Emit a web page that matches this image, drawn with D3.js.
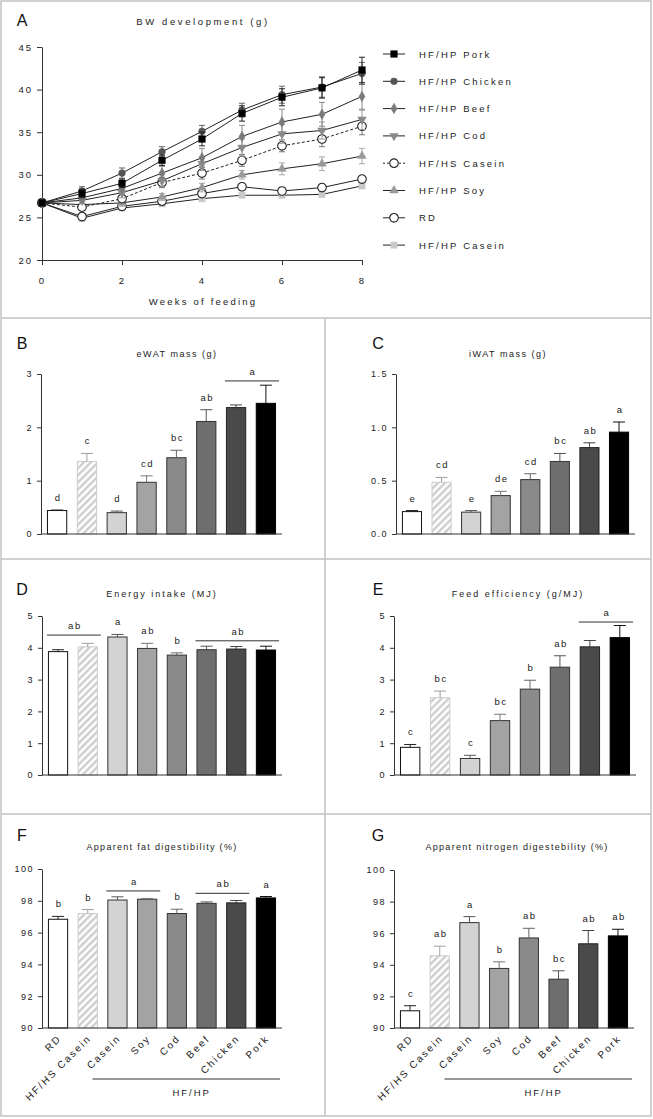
<!DOCTYPE html>
<html><head><meta charset="utf-8">
<script src="https://cdn.jsdelivr.net/npm/d3@7"></script>
<style>
html,body{margin:0;padding:0;background:#fff;}
svg{display:block;font-family:Arial,"Liberation Sans",Helvetica,sans-serif;}
</style></head><body>
<svg id="chart" width="653" height="1119"></svg>
<script>
// ================= DATA =================
// Panel A: body weight development (g)
const weeks = [0, 1, 2, 3, 4, 5, 6, 7, 8];
const weekTicks = [0, 2, 4, 6, 8];
const bwTicks = [20, 25, 30, 35, 40, 45];
const bwNames = ["HF/HP Pork", "HF/HP Chicken", "HF/HP Beef", "HF/HP Cod", "HF/HS Casein", "HF/HP Soy", "RD", "HF/HP Casein"];
const bwPork      = [26.7, 27.8, 29.0, 31.7, 34.2, 37.2, 39.1, 40.2, 42.3];
const bwChicken   = [26.7, 28.1, 30.2, 32.7, 35.1, 37.6, 39.4, 40.3, 41.9];
const bwBeef      = [26.7, 27.3, 28.4, 30.2, 32.0, 34.5, 36.2, 37.1, 39.2];
const bwCod       = [26.7, 27.0, 27.9, 29.3, 31.3, 33.2, 34.8, 35.2, 36.5];
const bwHSCasein  = [26.7, 26.2, 27.2, 29.1, 30.2, 31.7, 33.4, 34.2, 35.7];
const bwSoy       = [26.7, 26.5, 26.7, 27.4, 28.5, 30.0, 30.7, 31.3, 32.2];
const bwRD        = [26.7, 25.1, 26.3, 26.9, 27.8, 28.6, 28.1, 28.5, 29.5];
const bwCasein    = [26.7, 24.9, 26.1, 26.6, 27.2, 27.6, 27.6, 27.7, 28.7];
const bwPorkErr     = [0, 0.5, 0.5, 0.6, 0.8, 0.9, 1.0, 1.2, 1.5];
const bwChickenErr  = [0, 0.5, 0.6, 0.6, 0.7, 0.8, 1.0, 1.2, 1.3];
const bwBeefErr     = [0, 0.4, 0.7, 0.8, 1.1, 1.3, 1.5, 1.4, 1.6];
const bwCodErr      = [0, 0.4, 0.6, 0.7, 0.8, 1.0, 1.1, 1.0, 1.2];
const bwHSCaseinErr = [0, 0.4, 0.5, 0.6, 0.7, 0.7, 0.7, 0.9, 1.0];
const bwSoyErr      = [0, 0.4, 0.4, 0.4, 0.5, 0.5, 0.7, 0.8, 0.9];
const bwRDErr       = [0, 0.3, 0.3, 0.3, 0.3, 0.3, 0.4, 0.4, 0.4];
const bwCaseinErr   = [0, 0.3, 0.3, 0.3, 0.2, 0.2, 0.2, 0.2, 0.3];

// Bar panels
const barGroups = ["RD", "HF/HS Casein", "Casein", "Soy", "Cod", "Beef", "Chicken", "Pork"];
const hfhpLabel = "HF/HP";

const ewatMean = [0.44, 1.36, 0.40, 0.97, 1.43, 2.11, 2.37, 2.45];
const ewatSem  = [0.01, 0.15, 0.03, 0.12, 0.14, 0.22, 0.05, 0.34];
const ewatLetters = ["d", "c", "d", "cd", "bc", "ab", "", ""];
const ewatGroupLines = [{from: 6, to: 7, value: 2.87, label: "a"}];
const ewatTicks = [0, 1, 2, 3];

const iwatMean = [0.21, 0.485, 0.205, 0.36, 0.51, 0.68, 0.81, 0.955];
const iwatSem  = [0.01, 0.045, 0.015, 0.04, 0.055, 0.075, 0.045, 0.095];
const iwatLetters = ["e", "cd", "e", "de", "cd", "bc", "ab", "a"];
const iwatGroupLines = [];
const iwatTicks = [0, 0.5, 1.0, 1.5];

const energyMean = [3.88, 4.03, 4.34, 3.98, 3.77, 3.94, 3.96, 3.93];
const energySem  = [0.06, 0.11, 0.08, 0.16, 0.07, 0.11, 0.08, 0.12];
const energyLetters = ["", "", "a", "ab", "b", "", "", ""];
const energyGroupLines = [{from: 0, to: 1, value: 4.40, label: "ab"}, {from: 5, to: 7, value: 4.22, label: "ab"}];
const energyTicks = [0, 1, 2, 3, 4, 5];

const feedMean = [0.87, 2.43, 0.52, 1.71, 2.70, 3.39, 4.03, 4.32];
const feedSem  = [0.09, 0.21, 0.10, 0.20, 0.28, 0.36, 0.20, 0.38];
const feedLetters = ["c", "bc", "c", "bc", "b", "ab", "", ""];
const feedGroupLines = [{from: 6, to: 7, value: 4.81, label: "a"}];
const feedTicks = [0, 1, 2, 3, 4, 5];

const fatMean = [96.84, 97.20, 98.05, 98.10, 97.20, 97.84, 97.87, 98.18];
const fatSem  = [0.18, 0.25, 0.20, 0.05, 0.27, 0.09, 0.15, 0.09];
const fatLetters = ["b", "b", "", "", "b", "", "", "a"];
const fatGroupLines = [{from: 2, to: 3, value: 98.62, label: "a"}, {from: 5, to: 6, value: 98.47, label: "ab"}];
const digTicks = [90, 92, 94, 96, 98, 100];

const nitMean = [91.09, 94.57, 96.67, 93.77, 95.70, 93.09, 95.33, 95.83];
const nitSem  = [0.32, 0.61, 0.38, 0.42, 0.61, 0.53, 0.84, 0.42];
const nitLetters = ["c", "ab", "a", "b", "ab", "bc", "ab", "ab"];
const nitGroupLines = [];

// ================= DRAWING =================
const svg = d3.select("#chart");
const FONT_SMALL = "9px";

// hatch pattern
const defs = svg.append("defs");
const pat = defs.append("pattern").attr("id", "hatch").attr("patternUnits", "userSpaceOnUse")
  .attr("width", 5).attr("height", 5).attr("patternTransform", "rotate(45)");
pat.append("rect").attr("width", 5).attr("height", 5).attr("fill", "#ffffff");
pat.append("rect").attr("width", 2.4).attr("height", 5).attr("fill", "#cdcdcd");

// frame
const frame = svg.append("g").attr("stroke", "#c2c2c2").attr("stroke-width", 1.5).attr("fill", "none");
frame.append("rect").attr("x", 1).attr("y", 1).attr("width", 650).attr("height", 1115);
[318, 559, 814].forEach(yy => frame.append("line").attr("x1", 1).attr("x2", 651).attr("y1", yy).attr("y2", yy));
frame.append("line").attr("x1", 325).attr("x2", 325).attr("y1", 318).attr("y2", 1116);

function styleAxis(sel, ls, fs) {
  sel.select(".domain").attr("stroke", "#333").attr("stroke-width", 1);
  sel.selectAll(".tick line").attr("stroke", "#333").attr("stroke-width", 1);
  sel.selectAll(".tick text").attr("fill", "#222").style("font-size", fs || FONT_SMALL)
    .style("letter-spacing", ls + "px").style("font-family", "Arial, 'Liberation Sans', sans-serif");
}

function panelLetter(t, x, y) {
  svg.append("text").attr("x", x).attr("y", y).attr("text-anchor", "middle")
    .style("font-size", "16px").attr("fill", "#111").text(t);
}
function panelTitle(t, x, y, ls) {
  svg.append("text").attr("x", x).attr("y", y).attr("text-anchor", "middle")
    .style("font-size", FONT_SMALL).style("letter-spacing", (ls || 2) + "px").attr("fill", "#222").text(t);
}

// ---------- Panel A ----------
(function () {
  const x = d3.scaleLinear().domain([0, 8]).range([42, 362]);
  const y = d3.scaleLinear().domain([20, 45]).range([260, 47]);
  const g = svg.append("g");
  const ya = g.append("g").attr("transform", "translate(42,0)")
    .call(d3.axisLeft(y).tickValues(bwTicks).tickSize(5).tickSizeOuter(0).tickPadding(4));
  styleAxis(ya, 2, "9.5px");
  const xa = g.append("g").attr("transform", "translate(0,260)")
    .call(d3.axisBottom(x).tickValues(weekTicks).tickSize(5).tickSizeOuter(0).tickPadding(12));
  styleAxis(xa, 2, "9.5px");

  const values = [bwPork, bwChicken, bwBeef, bwCod, bwHSCasein, bwSoy, bwRD, bwCasein];
  const errs = [bwPorkErr, bwChickenErr, bwBeefErr, bwCodErr, bwHSCaseinErr, bwSoyErr, bwRDErr, bwCaseinErr];
  const styles = [
    {sym: d3.symbolSquare, size: 44, fill: "#000", stroke: "#000", err: "#222", rot: 0, dash: null},
    {sym: d3.symbolCircle, size: 36, fill: "#555", stroke: "#555", err: "#666", rot: 0, dash: null},
    {sym: d3.symbolDiamond, size: 32, fill: "#7a7a7a", stroke: "#7a7a7a", err: "#888", rot: 0, dash: null},
    {sym: d3.symbolTriangle, size: 32, fill: "#8a8a8a", stroke: "#8a8a8a", err: "#999", rot: 180, dash: null},
    {sym: d3.symbolCircle, size: 58, fill: "#fff", stroke: "#222", err: "#777", rot: 0, dash: "3,2"},
    {sym: d3.symbolTriangle, size: 32, fill: "#9a9a9a", stroke: "#9a9a9a", err: "#aaa", rot: 0, dash: null},
    {sym: d3.symbolCircle, size: 58, fill: "#fff", stroke: "#222", err: "#888", rot: 0, dash: null},
    {sym: d3.symbolSquare, size: 40, fill: "#c8c8c8", stroke: "#c8c8c8", err: "#bbb", rot: 0, dash: null}
  ];
  const line = d3.line().x((d, i) => x(weeks[i])).y(d => y(d));
  for (let s = values.length - 1; s >= 0; s--) {
    const st = styles[s];
    const sg = g.append("g");
    weeks.forEach((w, i) => {
      const e = errs[s][i];
      if (!e) return;
      const cx = x(w), y1 = y(values[s][i] - e), y2 = y(values[s][i] + e);
      sg.append("line").attr("x1", cx).attr("x2", cx).attr("y1", y1).attr("y2", y2).attr("stroke", st.err).attr("stroke-width", 1);
      [y1, y2].forEach(yy => sg.append("line").attr("x1", cx - 3).attr("x2", cx + 3).attr("y1", yy).attr("y2", yy)
        .attr("stroke", st.err).attr("stroke-width", 1));
    });
    sg.append("path").attr("d", line(values[s])).attr("fill", "none").attr("stroke", "#222").attr("stroke-width", 1)
      .attr("stroke-dasharray", st.dash);
    sg.selectAll("path.m").data(values[s]).join("path").attr("class", "m")
      .attr("d", d3.symbol().type(st.sym).size(st.size))
      .attr("transform", (d, i) => `translate(${x(weeks[i])},${y(d)}) rotate(${st.rot})`)
      .attr("fill", st.fill).attr("stroke", st.stroke).attr("stroke-width", st.fill === "#fff" ? 1.1 : 0.5);
  }
  // legend
  const lg = g.append("g");
  bwNames.forEach((n, i) => {
    const st = styles[i];
    const ly = 54 + i * 27.3;
    lg.append("line").attr("x1", 383).attr("x2", 405).attr("y1", ly).attr("y2", ly)
      .attr("stroke", "#222").attr("stroke-width", 1).attr("stroke-dasharray", st.dash ? "2,2" : null);
    lg.append("path").attr("d", d3.symbol().type(st.sym).size(st.size)())
      .attr("transform", `translate(394,${ly}) rotate(${st.rot})`)
      .attr("fill", st.fill).attr("stroke", st.stroke).attr("stroke-width", st.fill === "#fff" ? 1.1 : 0.5);
    lg.append("text").attr("x", 419).attr("y", ly + 3.5).style("font-size", "9.5px").style("letter-spacing", "2.2px")
      .attr("fill", "#222").text(n);
  });
  panelLetter("A", 22, 26);
  svg.append("text").attr("x", 203).attr("y", 25).attr("text-anchor", "middle")
    .style("font-size", "9.5px").style("letter-spacing", "2.6px").attr("fill", "#222").text("BW development (g)");
  svg.append("text").attr("x", 203).attr("y", 305).attr("text-anchor", "middle")
    .style("font-size", "9.5px").style("letter-spacing", "2.2px").attr("fill", "#222").text("Weeks of feeding");
})();

// ---------- Bar panels ----------
const barFills   = ["#ffffff", "url(#hatch)", "#d3d3d3", "#a3a3a3", "#8a8a8a", "#6e6e6e", "#4a4a4a", "#000000"];
const barStrokes = ["#111111", "#cccccc", "#333333", "#333333", "#333333", "#333333", "#222222", "#000000"];
const errStrokes = ["#222222", "#a0a0a0", "#555555", "#777777", "#666666", "#555555", "#444444", "#111111"];

function drawBarPanel(o) {
  const g = svg.append("g");
  const x = d3.scaleBand().domain(barGroups).range([o.x0, o.x1]).paddingInner(0.32).paddingOuter(0.2);
  const bw = x.bandwidth();
  const y = d3.scaleLinear().domain(o.domain).range([o.yBot, o.yTop]);

  g.selectAll("rect.bar").data(o.mean).join("rect").attr("class", "bar")
    .attr("x", (d, i) => x(barGroups[i]) + 0.5).attr("y", d => y(d))
    .attr("width", bw - 1).attr("height", d => o.yBot - y(d))
    .attr("fill", (d, i) => barFills[i]).attr("stroke", (d, i) => barStrokes[i]).attr("stroke-width", 1);
  o.mean.forEach((m, i) => {
    const cx = x(barGroups[i]) + bw / 2;
    const yt = y(m + o.sem[i]);
    g.append("line").attr("x1", cx).attr("x2", cx).attr("y1", y(m)).attr("y2", yt).attr("stroke", errStrokes[i]).attr("stroke-width", 1);
    g.append("line").attr("x1", cx - 6).attr("x2", cx + 6).attr("y1", yt).attr("y2", yt).attr("stroke", errStrokes[i]).attr("stroke-width", 1);
    if (o.letters[i]) {
      g.append("text").attr("x", cx + 1).attr("y", yt - 9).attr("text-anchor", "middle")
        .style("font-size", "9.5px").style("letter-spacing", "1.5px").attr("fill", "#222").text(o.letters[i]);
    }
  });
  o.groupLines.forEach(gl => {
    const xa = x(barGroups[gl.from]) - 1, xb = x(barGroups[gl.to]) + bw + 3;
    const yy = y(gl.value);
    g.append("line").attr("x1", xa).attr("x2", xb).attr("y1", yy).attr("y2", yy).attr("stroke", "#333").attr("stroke-width", 1);
    g.append("text").attr("x", (xa + xb) / 2 + 1).attr("y", yy - 6).attr("text-anchor", "middle")
      .style("font-size", "9.5px").style("letter-spacing", "1.5px").attr("fill", "#222").text(gl.label);
  });
  const ya = g.append("g").attr("transform", `translate(${o.x0},0)`)
    .call(d3.axisLeft(y).tickValues(o.ticks).tickFormat(o.fmt).tickSize(4).tickSizeOuter(0).tickPadding(4));
  styleAxis(ya, 1.5);
  g.append("line").attr("x1", o.x0).attr("x2", o.x1).attr("y1", o.yBot).attr("y2", o.yBot).attr("stroke", "#333").attr("stroke-width", 1);

  if (o.xLabels) {
    g.selectAll("text.xl").data(barGroups).join("text").attr("class", "xl")
      .attr("transform", d => `translate(${x(d) + bw / 2 + 4},${o.yBot + 11}) rotate(-45)`)
      .attr("text-anchor", "end").style("font-size", "10px").style("letter-spacing", "2px").attr("fill", "#222").text(d => d);
    const bx1 = x(barGroups[2]) - x.step() * 0.5, bx2 = o.x1 - 2;
    g.append("line").attr("x1", bx1).attr("x2", bx2).attr("y1", o.yBot + 51).attr("y2", o.yBot + 51).attr("stroke", "#333").attr("stroke-width", 1);
    g.append("text").attr("x", (x(barGroups[2]) + x(barGroups[7]) + bw) / 2).attr("y", o.yBot + 68).attr("text-anchor", "middle")
      .style("font-size", "9.5px").style("letter-spacing", "2px").attr("fill", "#222").text(hfhpLabel);
  }
  panelLetter(o.letter, o.letterX, o.letterY);
  panelTitle(o.title, o.titleX, o.titleY, o.titleLs);
}

const fmtInt = d3.format("d"), fmt1 = d3.format(".1f");
drawBarPanel({x0: 41, x1: 282, yTop: 374, yBot: 534, domain: [0, 3], ticks: ewatTicks, fmt: fmtInt,
  mean: ewatMean, sem: ewatSem, letters: ewatLetters, groupLines: ewatGroupLines,
  letter: "B", letterX: 22, letterY: 349, title: "eWAT mass (g)", titleX: 177, titleY: 357, titleLs: 1.5});
drawBarPanel({x0: 396, x1: 635, yTop: 374, yBot: 534, domain: [0, 1.5], ticks: iwatTicks, fmt: fmt1,
  mean: iwatMean, sem: iwatSem, letters: iwatLetters, groupLines: iwatGroupLines,
  letter: "C", letterX: 378, letterY: 349, title: "iWAT mass (g)", titleX: 508, titleY: 357, titleLs: 1.5});
drawBarPanel({x0: 42, x1: 282, yTop: 616, yBot: 775, domain: [0, 5], ticks: energyTicks, fmt: fmtInt,
  mean: energyMean, sem: energySem, letters: energyLetters, groupLines: energyGroupLines,
  letter: "D", letterX: 22, letterY: 595, title: "Energy intake (MJ)", titleX: 162, titleY: 597});
drawBarPanel({x0: 394, x1: 636, yTop: 616, yBot: 775, domain: [0, 5], ticks: feedTicks, fmt: fmtInt,
  mean: feedMean, sem: feedSem, letters: feedLetters, groupLines: feedGroupLines,
  letter: "E", letterX: 378, letterY: 595, title: "Feed efficiency (g/MJ)", titleX: 518, titleY: 597});
drawBarPanel({x0: 42, x1: 282, yTop: 869, yBot: 1028, domain: [90, 100], ticks: digTicks, fmt: fmtInt,
  mean: fatMean, sem: fatSem, letters: fatLetters, groupLines: fatGroupLines, xLabels: true,
  letter: "F", letterX: 22, letterY: 841, title: "Apparent fat digestibility (%)", titleX: 162, titleY: 850, titleLs: 1.3});
drawBarPanel({x0: 394, x1: 634, yTop: 870, yBot: 1028, domain: [90, 100], ticks: digTicks, fmt: fmtInt,
  mean: nitMean, sem: nitSem, letters: nitLetters, groupLines: nitGroupLines, xLabels: true,
  letter: "G", letterX: 378, letterY: 841, title: "Apparent nitrogen digestebility (%)", titleX: 517, titleY: 850, titleLs: 1.3});
</script>
</body></html>
